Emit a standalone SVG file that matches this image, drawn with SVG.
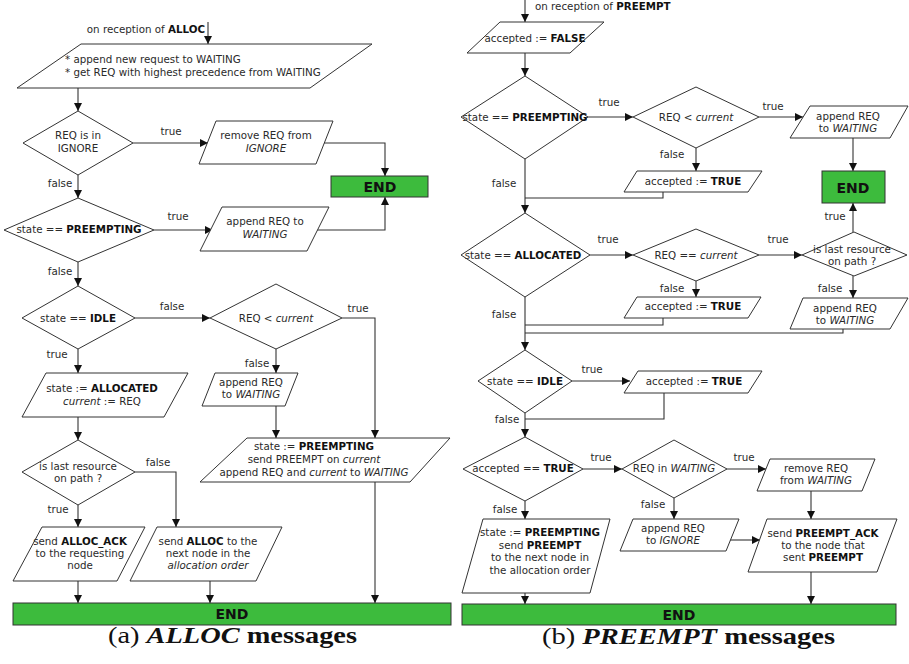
<svg xmlns="http://www.w3.org/2000/svg" width="909" height="664" viewBox="0 0 909 664">
<defs>
<marker id="ah" markerUnits="userSpaceOnUse" markerWidth="9" markerHeight="9" refX="8" refY="4.5" orient="auto">
<path d="M0,0.5 L8,4.5 L0,8.5 z" fill="#111"/>
</marker>
<style>
.n{fill:#fff;stroke:#333;stroke-width:1}
.e{fill:#3dbb3d;stroke:#333;stroke-width:1}
.c{fill:none;stroke:#333;stroke-width:1.1}
.a{marker-end:url(#ah)}
text{font-family:"DejaVu Sans","Verdana",sans-serif;font-size:10.3px;fill:#2a2a2a}
.m{text-anchor:middle}
.b{font-weight:bold;fill:#111}
.i{font-style:italic}
.et{font-size:14px;font-weight:bold;text-anchor:middle;fill:#111}
.cap{font-family:"Liberation Serif","Times New Roman",serif;font-size:23px;fill:#111}
</style>
</defs>
<rect width="909" height="664" fill="#fff"/>

<g id="connectors">
<path class="c a" d="M208,22 V44"/>
<path class="c a" d="M78,88 V111"/>
<path class="c a" d="M133,143 H208"/>
<path class="c a" d="M324,143 H385 V176"/>
<path class="c a" d="M78,175 V198"/>
<path class="c a" d="M154,230 H213"/>
<path class="c a" d="M317,230 H385 V197"/>
<path class="c a" d="M78,262 V286"/>
<path class="c a" d="M135,318 H210"/>
<path class="c a" d="M342,318 H375 V438"/>
<path class="c a" d="M276,349 V373"/>
<path class="c a" d="M276,406 V438"/>
<path class="c a" d="M78,349 V373"/>
<path class="c a" d="M78,417 V440"/>
<path class="c a" d="M135,472 H176 V527"/>
<path class="c a" d="M78,505 V527"/>
<path class="c a" d="M78,581 V603"/>
<path class="c a" d="M210,581 V603"/>
<path class="c a" d="M375,482 V603"/>
<path class="c a" d="M525,0 V22"/>
<path class="c a" d="M525,53 V76"/>
<path class="c a" d="M588,117 H633"/>
<path class="c a" d="M759,117 H803"/>
<path class="c a" d="M853,138 V171"/>
<path class="c a" d="M696,148 V171"/>
<path class="c" d="M663,192 V198 H525"/>
<path class="c a" d="M525,159 V213"/>
<path class="c a" d="M590,255 H633"/>
<path class="c a" d="M759,255 H802"/>
<path class="c a" d="M853,232 V203"/>
<path class="c a" d="M853,276 V298"/>
<path class="c" d="M843,329 V333 H525"/>
<path class="c a" d="M696,281 V297"/>
<path class="c" d="M663,318 V325 H525"/>
<path class="c a" d="M525,297 V350"/>
<path class="c a" d="M572,381 H630"/>
<path class="c" d="M664,393 V419 H525"/>
<path class="c a" d="M525,413 V437"/>
<path class="c a" d="M583,469 H622"/>
<path class="c a" d="M727,469 H766"/>
<path class="c a" d="M811,491 V519"/>
<path class="c a" d="M674,498 V519"/>
<path class="c a" d="M729,540 H760"/>
<path class="c a" d="M811,572 V604"/>
<path class="c a" d="M525,501 V519"/>
<path class="c a" d="M525,593 V604"/>
</g>

<g id="edge-labels">
<text class="m" x="171" y="135">true</text>
<text class="m" x="60" y="187">false</text>
<text class="m" x="178" y="220">true</text>
<text class="m" x="60" y="275">false</text>
<text class="m" x="172" y="310">false</text>
<text class="m" x="358" y="312">true</text>
<text class="m" x="257" y="367">false</text>
<text class="m" x="57" y="358">true</text>
<text class="m" x="158" y="466">false</text>
<text class="m" x="58" y="513">true</text>
<text class="m" x="609" y="106">true</text>
<text class="m" x="773" y="110">true</text>
<text class="m" x="672" y="158">false</text>
<text class="m" x="504" y="187">false</text>
<text class="m" x="608" y="243">true</text>
<text class="m" x="778" y="243">true</text>
<text class="m" x="835" y="220">true</text>
<text class="m" x="830" y="292">false</text>
<text class="m" x="672" y="292">false</text>
<text class="m" x="504" y="318">false</text>
<text class="m" x="592" y="373">true</text>
<text class="m" x="507" y="423">false</text>
<text class="m" x="601" y="461">true</text>
<text class="m" x="744" y="461">true</text>
<text class="m" x="653" y="508">false</text>
<text class="m" x="505" y="513">false</text>
</g>

<g id="start-alloc">
<text x="205" y="33" text-anchor="end">on reception of <tspan class="b">ALLOC</tspan></text>
</g>
<g id="l-append">
<polygon class="n" points="81,44 372,44 310,88 17,88"/>
<text x="65" y="63">* append new request to WAITING</text>
<text x="65" y="76">* get REQ with highest precedence from WAITING</text>
</g>
<g id="l-d-ignore">
<polygon class="n" points="78,111 133,143 78,175 23,143"/>
<text class="m" x="78" y="139">REQ is in</text>
<text class="m" x="78" y="152">IGNORE</text>
</g>
<g id="l-remove">
<polygon class="n" points="216,121 333,121 316,164 199,164"/>
<text class="m" x="266" y="139">remove REQ from</text>
<text class="m i" x="266" y="152">IGNORE</text>
</g>
<g id="l-end1">
<rect class="e" x="331" y="176" width="97" height="21"/>
<text class="et" x="380" y="192">END</text>
</g>
<g id="l-d-preempting">
<polygon class="n" points="78,198 154,230 78,262 4,230"/>
<text class="m" x="79" y="233">state == <tspan class="b">PREEMPTING</tspan></text>
</g>
<g id="l-append2">
<polygon class="n" points="222,207 329,207 307,251 200,251"/>
<text class="m" x="265" y="225">append REQ to</text>
<text class="m i" x="265" y="238">WAITING</text>
</g>
<g id="l-d-idle">
<polygon class="n" points="78,286 135,318 78,349 22,318"/>
<text class="m" x="78" y="322">state == <tspan class="b">IDLE</tspan></text>
</g>
<g id="l-d-current">
<polygon class="n" points="276,284 342,318 276,349 210,318"/>
<text class="m" x="276" y="322">REQ &lt; <tspan class="i">current</tspan></text>
</g>
<g id="l-append3">
<polygon class="n" points="215,373 298,373 285,406 202,406"/>
<text class="m" x="251" y="386">append REQ</text>
<text class="m" x="251" y="398">to <tspan class="i">WAITING</tspan></text>
</g>
<g id="l-allocated">
<polygon class="n" points="46,373 188,373 164,417 22,417"/>
<text class="m" x="102" y="392">state := <tspan class="b">ALLOCATED</tspan></text>
<text class="m" x="102" y="405"><tspan class="i">current</tspan> := REQ</text>
</g>
<g id="l-d-last">
<polygon class="n" points="78,440 135,472 78,505 22,472"/>
<text class="m" x="78" y="470">is last resource</text>
<text class="m" x="78" y="482">on path ?</text>
</g>
<g id="l-ack">
<polygon class="n" points="42,527 145,527 117,581 13,581"/>
<text class="m" x="80" y="545">send <tspan class="b">ALLOC_ACK</tspan></text>
<text class="m" x="80" y="557">to the requesting</text>
<text class="m" x="80" y="569">node</text>
</g>
<g id="l-alloc">
<polygon class="n" points="157,527 282,527 256,581 130,581"/>
<text class="m" x="208" y="545">send <tspan class="b">ALLOC</tspan> to the</text>
<text class="m" x="208" y="557">next node in the</text>
<text class="m i" x="208" y="569">allocation order</text>
</g>
<g id="l-preempt">
<polygon class="n" points="247,438 450,438 410,482 200,482"/>
<text class="m" x="314" y="450">state := <tspan class="b">PREEMPTING</tspan></text>
<text class="m" x="314" y="463">send PREEMPT on <tspan class="i">current</tspan></text>
<text class="m" x="314" y="476">append REQ and <tspan class="i">current</tspan> to <tspan class="i">WAITING</tspan></text>
</g>
<g id="l-end2">
<rect class="e" x="13" y="603" width="438" height="22"/>
<text class="et" x="232" y="619">END</text>
</g>
<text class="cap" x="108" y="643" textLength="249" lengthAdjust="spacingAndGlyphs">(a) <tspan font-weight="bold" font-style="italic">ALLOC</tspan> <tspan font-weight="bold">messages</tspan></text>

<g id="start-preempt">
<text x="535" y="10">on reception of  <tspan class="b">PREEMPT</tspan></text>
</g>
<g id="r-false">
<polygon class="n" points="500,22 604,22 570,53 467,53"/>
<text class="m" x="535" y="42">accepted := <tspan class="b">FALSE</tspan></text>
</g>
<g id="r-d-preempting">
<polygon class="n" points="525,76 588,117 525,159 461,117"/>
<text class="m" x="525" y="121">state == <tspan class="b">PREEMPTING</tspan></text>
</g>
<g id="r-d-current">
<polygon class="n" points="696,87 759,117 696,148 633,117"/>
<text class="m" x="696" y="121">REQ &lt; <tspan class="i">current</tspan></text>
</g>
<g id="r-append1">
<polygon class="n" points="810,106 908,106 890,138 790,138"/>
<text class="m" x="848" y="120">append REQ</text>
<text class="m" x="848" y="132">to <tspan class="i">WAITING</tspan></text>
</g>
<g id="r-end1">
<rect class="e" x="822" y="171" width="63" height="32"/>
<text class="et" x="853" y="193">END</text>
</g>
<g id="r-true1">
<polygon class="n" points="637,171 762,171 748,192 624,192"/>
<text class="m" x="693" y="185">accepted := <tspan class="b">TRUE</tspan></text>
</g>
<g id="r-d-allocated">
<polygon class="n" points="525,213 590,255 525,297 461,255"/>
<text class="m" x="523" y="259">state == <tspan class="b">ALLOCATED</tspan></text>
</g>
<g id="r-d-eqcurrent">
<polygon class="n" points="696,229 759,255 696,281 633,255"/>
<text class="m" x="696" y="259">REQ == <tspan class="i">current</tspan></text>
</g>
<g id="r-d-last">
<polygon class="n" points="854,232 907,255 854,276 802,255"/>
<text class="m" x="852" y="253">is last resource</text>
<text class="m" x="852" y="265">on path ?</text>
</g>
<g id="r-append2">
<polygon class="n" points="803,298 908,298 890,329 790,329"/>
<text class="m" x="845" y="312">append REQ</text>
<text class="m" x="845" y="324">to <tspan class="i">WAITING</tspan></text>
</g>
<g id="r-true2">
<polygon class="n" points="637,297 761,297 748,318 624,318"/>
<text class="m" x="693" y="310">accepted := <tspan class="b">TRUE</tspan></text>
</g>
<g id="r-d-idle">
<polygon class="n" points="525,350 572,381 525,413 478,381"/>
<text class="m" x="525" y="385">state == <tspan class="b">IDLE</tspan></text>
</g>
<g id="r-true3">
<polygon class="n" points="638,371 762,371 748,393 624,393"/>
<text class="m" x="694" y="385">accepted := <tspan class="b">TRUE</tspan></text>
</g>
<g id="r-d-accepted">
<polygon class="n" points="525,437 583,469 525,501 463,469"/>
<text class="m" x="523" y="472">accepted == <tspan class="b">TRUE</tspan></text>
</g>
<g id="r-d-inwaiting">
<polygon class="n" points="674,440 727,469 674,498 622,469"/>
<text class="m" x="674" y="472">REQ in <tspan class="i">WAITING</tspan></text>
</g>
<g id="r-remove">
<polygon class="n" points="770,459 875,459 862,491 757,491"/>
<text class="m" x="816" y="472">remove REQ</text>
<text class="m" x="816" y="484">from <tspan class="i">WAITING</tspan></text>
</g>
<g id="r-ignore">
<polygon class="n" points="633,519 739,519 726,551 620,551"/>
<text class="m" x="673" y="532">append REQ</text>
<text class="m" x="673" y="544">to <tspan class="i">IGNORE</tspan></text>
</g>
<g id="r-ack">
<polygon class="n" points="767,519 897,519 877,572 748,572"/>
<text class="m" x="823" y="537">send <tspan class="b">PREEMPT_ACK</tspan></text>
<text class="m" x="823" y="549">to the node that</text>
<text class="m" x="823" y="561">sent <tspan class="b">PREEMPT</tspan></text>
</g>
<g id="r-preempting">
<polygon class="n" points="483,519 610,519 590,593 462,593"/>
<text class="m" x="540" y="536">state := <tspan class="b">PREEMPTING</tspan></text>
<text class="m" x="540" y="549">send <tspan class="b">PREEMPT</tspan></text>
<text class="m" x="540" y="561">to the next node in</text>
<text class="m" x="540" y="574">the allocation order</text>
</g>
<g id="r-end2">
<rect class="e" x="462" y="604" width="434" height="21"/>
<text class="et" x="679" y="620">END</text>
</g>
<text class="cap" x="542" y="644" textLength="293" lengthAdjust="spacingAndGlyphs">(b) <tspan font-weight="bold" font-style="italic">PREEMPT</tspan> <tspan font-weight="bold">messages</tspan></text>
</svg>
